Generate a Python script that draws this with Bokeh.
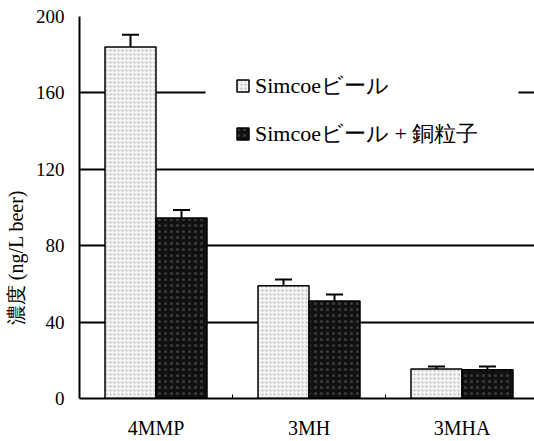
from bokeh.plotting import figure
from bokeh.models import (ColumnDataSource, Whisker, TeeHead, FixedTicker, Legend, LegendItem,
                          Range1d, BoxAnnotation)
from bokeh.embed import file_html
from bokeh.resources import INLINE

categories = ["4MMP", "3MH", "3MHA"]
series_names = ["Simcoeビール", "Simcoeビール + 銅粒子"]
simcoe = [184, 59, 15.5]
simcoe_err = [6.5, 3.3, 1.2]
simcoe_cu = [94.5, 51, 15]
simcoe_cu_err = [4.2, 3.5, 1.8]
y_ticks = [0, 40, 80, 120, 160, 200]
y_title = "濃度 (ng/L beer)"

SERIF = "'Liberation Serif', serif"

idx = list(range(len(categories)))
bar_w = 1 / 3
src_a = ColumnDataSource(dict(
    x=[i + 0.5 - bar_w / 2 for i in idx], top=simcoe,
    upper=[v + e for v, e in zip(simcoe, simcoe_err)],
    lower=[v - e for v, e in zip(simcoe, simcoe_err)]))
src_b = ColumnDataSource(dict(
    x=[i + 0.5 + bar_w / 2 for i in idx], top=simcoe_cu,
    upper=[v + e for v, e in zip(simcoe_cu, simcoe_cu_err)],
    lower=[v - e for v, e in zip(simcoe_cu, simcoe_cu_err)]))

p = figure(width=534, height=441, output_backend="svg", toolbar_location=None,
           x_range=Range1d(0, 455 / 153), y_range=Range1d(0, 200),
           min_border_left=79, min_border_top=16, min_border_bottom=42, min_border_right=0)
p.outline_line_color = None
p.background_fill_color = "white"
p.border_fill_color = "white"

ra = p.vbar(x="x", top="top", width=bar_w, source=src_a,
            fill_color="#f4f4f4", line_color="black", line_width=1.5,
            hatch_pattern="dot", hatch_color="#b8b8b8", hatch_scale=4, hatch_weight=1)
rb = p.vbar(x="x", top="top", width=bar_w, source=src_b,
            fill_color="#111111", line_color="black", line_width=1.5,
            hatch_pattern="dot", hatch_color="#3c3c3c", hatch_scale=6, hatch_weight=1)

for s in (src_a, src_b):
    w = Whisker(source=s, base="x", upper="upper", lower="lower",
                line_color="black", line_width=2,
                upper_head=TeeHead(size=17, line_width=2, line_color="black"),
                lower_head=TeeHead(size=17, line_width=2, line_color="black"))
    p.add_layout(w)

# axes
p.xaxis.ticker = FixedTicker(ticks=[i + 0.5 for i in idx], minor_ticks=[i for i in idx[1:]])
p.xaxis.major_label_overrides = {i + 0.5: c for i, c in zip(idx, categories)}
p.xaxis.major_tick_in = 0
p.xaxis.major_tick_out = 0
p.xaxis.minor_tick_in = 4
p.xaxis.minor_tick_out = 0
p.xaxis.minor_tick_line_color = "black"
p.xaxis.minor_tick_line_width = 1
p.xaxis.axis_line_color = "black"
p.xaxis.axis_line_width = 2
p.xaxis.major_label_text_font = SERIF
p.xaxis.major_label_text_font_size = "20px"
p.xaxis.major_label_text_font_style = "normal"
p.xaxis.major_label_text_color = "black"
p.xaxis.major_label_standoff = 18

p.yaxis.ticker = FixedTicker(ticks=y_ticks, minor_ticks=[])
p.yaxis.major_tick_in = 0
p.yaxis.major_tick_out = 0
p.yaxis.axis_line_color = "black"
p.yaxis.axis_line_width = 2
p.yaxis.major_label_text_font = SERIF
p.yaxis.major_label_text_font_size = "19px"
p.yaxis.major_label_text_font_style = "normal"
p.yaxis.major_label_text_color = "black"
p.yaxis.major_label_standoff = 15
# trailing ideographic spaces push the centred title down, as in the reference
p.yaxis.axis_label = y_title + "\u3000" * 5
p.yaxis.axis_label_text_font = SERIF
p.yaxis.axis_label_text_font_size = "20px"
p.yaxis.axis_label_text_font_style = "normal"
p.yaxis.axis_label_text_color = "black"
p.yaxis.axis_label_standoff = 6

p.xgrid.grid_line_color = None
p.ygrid.grid_line_color = "black"
p.ygrid.grid_line_width = 2
p.ygrid.ticker = FixedTicker(ticks=y_ticks)

# white area behind legend
p.add_layout(BoxAnnotation(left=126, right=439, bottom=238, top=344,
                           left_units="screen", right_units="screen",
                           bottom_units="screen", top_units="screen",
                           fill_color="white", fill_alpha=1, line_color=None))

legend = Legend(items=[LegendItem(label=series_names[0], renderers=[ra]),
                       LegendItem(label=series_names[1], renderers=[rb])],
                location=(156, 249), padding=0, margin=0, spacing=17,
                glyph_width=15, glyph_height=15, label_height=31, label_standoff=5,
                label_text_font=SERIF, label_text_font_size="22px",
                label_text_font_style="normal", label_text_color="black",
                background_fill_alpha=0, border_line_color=None)
p.add_layout(legend, "center")

open("out.html", "w").write(file_html(p, INLINE))
